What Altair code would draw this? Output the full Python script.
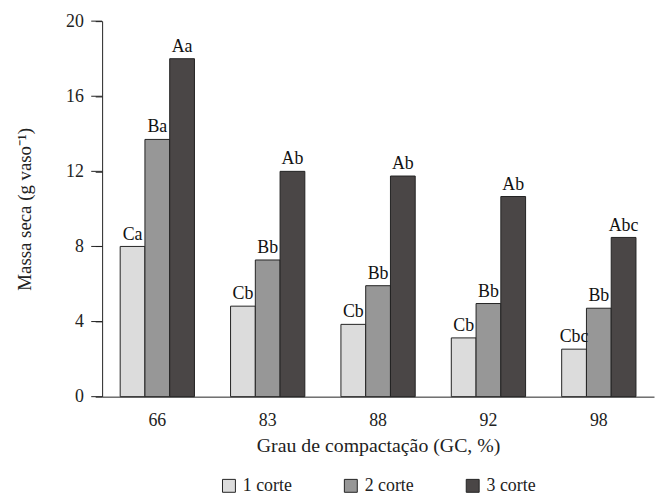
import altair as alt
import pandas as pd

gc = ["66", "83", "88", "92", "98"]
cortes = ["1 corte", "2 corte", "3 corte"]
corte1 = [8.0, 4.82, 3.85, 3.13, 2.53]
corte2 = [13.7, 7.28, 5.91, 4.96, 4.71]
corte3 = [18.0, 12.0, 11.75, 10.66, 8.48]
letters1 = ["Ca", "Cb", "Cb", "Cb", "Cbc"]
letters2 = ["Ba", "Bb", "Bb", "Bb", "Bb"]
letters3 = ["Aa", "Ab", "Ab", "Ab", "Abc"]
colors = ["#dcdcdc", "#979797", "#4a4646"]
minor_ticks = list(range(0, 21))
major_ticks = [0, 4, 8, 12, 16, 20]

rows = []
for vals, lets, c in [(corte1, letters1, cortes[0]), (corte2, letters2, cortes[1]), (corte3, letters3, cortes[2])]:
    for g, v, l in zip(gc, vals, lets):
        rows.append({"gc": g, "corte": c, "massa": v, "letra": l})
df = pd.DataFrame(rows)

FONT = "Liberation Serif"

x = alt.X("gc:N", sort=gc, title="Grau de compactação (GC, %)",
          scale=alt.Scale(paddingInner=0.327, paddingOuter=0.1635),
          axis=alt.Axis(labelAngle=0, ticks=False, labelPadding=15, titlePadding=6,
                        labelFontSize=18, titleFontSize=20, domainColor="#222"))
xo = alt.XOffset("corte:N", sort=cortes, scale=alt.Scale(paddingInner=0, paddingOuter=0))
y = alt.Y("massa:Q", title="Massa seca (g vaso⁻¹)",
          scale=alt.Scale(domain=[0, 20], nice=False),
          axis=alt.Axis(values=minor_ticks, tickSize=7, labelPadding=12,
                        labelExpr="datum.value % 4 == 0 ? datum.label : ''",
                        labelFontSize=18, titleFontSize=19, titlePadding=31,
                        grid=False, domainColor="#222", tickColor="#222"))

bars = alt.Chart(df).mark_bar(stroke="#222", strokeWidth=1).encode(
    x=x, xOffset=xo, y=y,
    fill=alt.Fill("corte:N", sort=cortes, scale=alt.Scale(domain=cortes, range=colors),
                  legend=alt.Legend(title=None, orient="none", legendX=119, legendY=460,
                                    direction="horizontal", symbolType="square",
                                    symbolSize=170, symbolStrokeColor="#222",
                                    symbolStrokeWidth=1, labelFontSize=18,
                                    columnPadding=50, labelOffset=5)),
)

text = alt.Chart(df).mark_text(baseline="bottom", dy=-3, fontSize=18, color="#111").encode(
    x=alt.X("gc:N", sort=gc), xOffset=xo, y=alt.Y("massa:Q"), text="letra:N"
)

majors = alt.Chart(pd.DataFrame({"v": major_ticks})).mark_rule(color="#222", strokeWidth=1).encode(
    y=alt.Y("v:Q"), x=alt.value(-11), x2=alt.value(0)
)

chart = alt.layer(bars, text, majors).properties(
    width=557, height=379,
    autosize=alt.AutoSizeParams(type="none"),
    padding={"left": 95, "top": 11, "right": 2, "bottom": 98},
).configure(font=FONT).configure_view(stroke=None).configure_axis(
    labelFont=FONT, titleFont=FONT, labelColor="#222", titleColor="#222", titleFontWeight="normal"
).configure_legend(labelFont=FONT, labelColor="#222")

chart.save("out.html", embed_options={"renderer": "svg", "actions": False})
